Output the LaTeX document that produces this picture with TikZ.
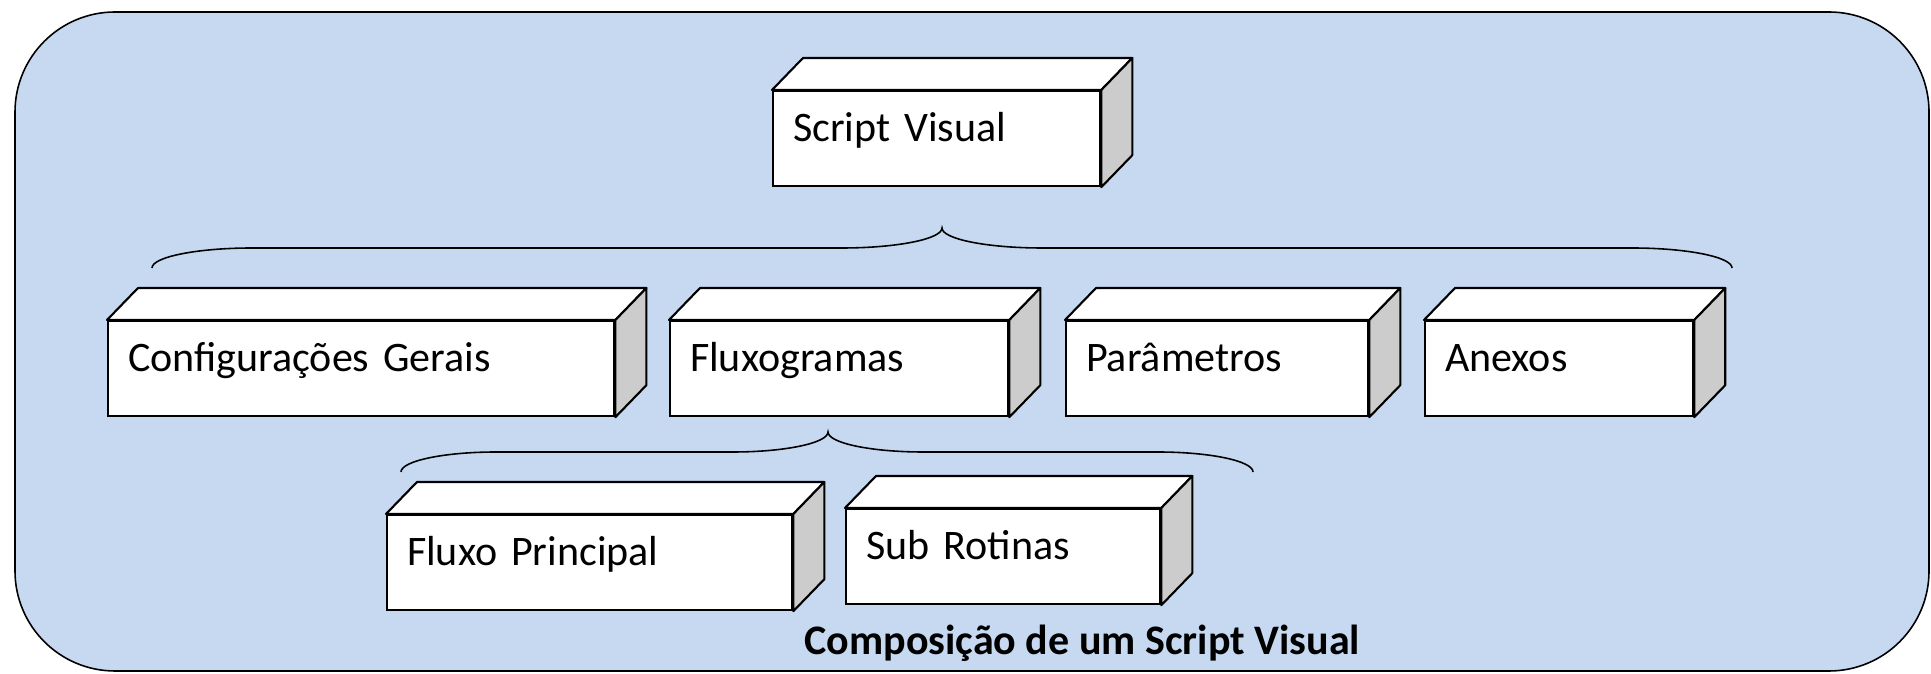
\documentclass[tikz,border=0pt]{standalone}
\usepackage{fontspec}
\setmainfont{Carlito}
\begin{document}
\begin{tikzpicture}[x=0.01cm, y=-0.01cm,
    cube/.style={draw, fill=white, line width=0.6pt, anchor=north west,
        inner xsep=2mm, inner ysep=0pt, text height=5mm, text depth=4.5mm,
        align=left, font=\fontsize{11.95}{14}\selectfont},
    face/.style={draw, line width=0.6pt, line join=round}]
    % Define colors
    \definecolor{panel}{RGB}{198,217,240}
    \definecolor{side}{RGB}{204,204,204}

    \useasboundingbox (0,0) rectangle (1931,674);

    % Background panel
    \draw[fill=panel, line width=0.45pt, rounded corners=1cm] (15,12) rectangle (1929,671);

    % Front faces
    \node[cube, text width=28.7mm] (sv) at (772,90) {Script Visual};
    \node[cube, text width=46.6mm] (cfg) at (107,320) {Configurações Gerais};
    \node[cube, text width=29.8mm] (flx) at (669,320) {Fluxogramas};
    \node[cube, text width=26.2mm] (par) at (1065,320) {Parâmetros};
    \node[cube, text width=22.8mm] (anx) at (1424,320) {Anexos};
    \node[cube, text width=36.5mm] (fp) at (386,514) {Fluxo Principal};
    \node[cube, text width=27.4mm] (sr) at (845,508) {Sub Rotinas};

    % Top and side faces
    \foreach \n in {sv,cfg,flx,par,anx,fp,sr} {
        \draw[face, fill=white] (\n.north west) -- ([shift={(31,-32)}]\n.north west)
            -- ([shift={(31,-32)}]\n.north east) -- (\n.north east) -- cycle;
        \draw[face, fill=side] (\n.north east) -- ([shift={(31,-32)}]\n.north east)
            -- ([shift={(31,-32)}]\n.south east) -- (\n.south east) -- cycle;
    }

    % Braces
    \draw[line width=0.45pt] (152,268) .. controls (152,257) and (197,248) .. (252,248) -- (842,248)
        .. controls (897,248) and (942,239) .. (942,228)
        .. controls (942,239) and (987,248) .. (1042,248) -- (1632,248)
        .. controls (1687,248) and (1732,257) .. (1732,268);
    \draw[line width=0.45pt] (401,472) .. controls (401,461) and (444,452) .. (496,452) -- (733,452)
        .. controls (785,452) and (828,443) .. (828,432)
        .. controls (828,443) and (871,452) .. (923,452) -- (1158,452)
        .. controls (1210,452) and (1253,461) .. (1253,472);

    % Caption
    \node[anchor=base west, font=\fontsize{11.95}{14}\selectfont\bfseries] (cap) at (792,655) {Composição de um Script Visual};
\end{tikzpicture}
\end{document}
